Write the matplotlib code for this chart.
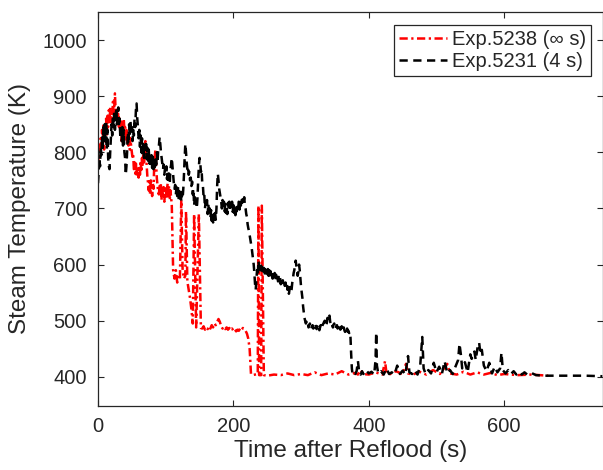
import matplotlib
matplotlib.use("Agg")
import matplotlib.pyplot as plt

plt.rcParams['font.family'] = ['Liberation Sans', 'DejaVu Sans']

# ---- data ----
# Exp.5238 : 1 s samples for t = 0..108, then irregular samples
red_early_T = [780, 795, 790, 815, 825, 810, 840, 820, 850, 805,
               835, 845, 860, 830, 865, 845, 875, 850, 880, 855,
               870, 850, 890, 865, 880, 905, 875, 860, 880, 850,
               870, 845, 860, 835, 855, 820, 850, 830, 860, 840,
               845, 820, 840, 815, 835, 812, 830, 805, 825, 810,
               800, 790, 795, 770, 785, 762, 780, 758, 775, 760,
               755, 772, 760, 785, 765, 790, 775, 800, 782, 810,
               820, 795, 775, 755, 745, 732, 748, 725, 750, 735,
               722, 745, 735, 775, 795, 805, 775, 752, 740, 728,
               725, 742, 730, 745, 715, 735, 720, 738, 712, 730,
               740, 718, 735, 745, 722, 740, 715, 732, 720]
red_late_t = [109, 111, 113, 115, 117, 119, 121, 123, 125, 127, 129, 130, 132, 134, 136, 138, 140,
              142, 145, 149, 152, 154, 156, 158, 160, 162, 164, 166, 168, 170, 172, 174, 176, 178, 180, 182,
              184, 186, 188, 190, 192, 194, 196, 198, 200, 202, 204, 206, 208, 210, 212, 214, 216, 218, 220,
              222, 224, 226, 228, 232, 236, 237, 238, 241, 242, 245, 250, 260, 270, 280, 290, 300, 310, 320,
              330, 340, 350, 360, 370, 380, 384, 388, 392, 400, 410, 420, 424, 426, 430, 440, 450, 455, 458,
              465, 475, 485, 495, 505, 516, 520, 530, 540, 550, 560, 570, 580, 590, 600, 620, 640, 665]
red_late_T = [705, 590, 575, 590, 568, 580, 575, 715, 590, 575, 580, 695, 570, 555,
              540, 520, 495, 690, 488, 690, 487, 486, 490, 484, 488, 485, 490, 486, 492, 488, 495, 492, 498, 503,
              498, 490, 486, 489, 485, 488, 484, 487, 483, 486, 482, 485, 481, 484, 482, 486, 483, 487, 485, 482,
              477, 468, 450, 405, 403, 404, 405, 705, 403, 403, 705, 403, 402, 404, 403, 406, 403, 405, 403, 408,
              403, 406, 404, 410, 404, 407, 404, 412, 405, 404, 408, 404, 428, 408, 404, 410, 405, 423, 406,
              404, 409, 404, 412, 405, 423, 406, 404, 409, 404, 408, 404, 407, 403, 405, 403, 404, 402]

# Exp.5231 : 1 s samples for t = 0..373, then irregular samples
black_early_T = [745, 765, 790, 775, 810, 795, 830, 805, 845, 815,
                 850, 820, 855, 805, 840, 790, 775, 770, 800, 825,
                 850, 830, 865, 845, 875, 840, 860, 880, 850, 870,
                 880, 845, 860, 825, 850, 820, 845, 812, 840, 800,
                 790, 760, 775, 800, 835, 815, 850, 830, 855, 835,
                 845, 820, 840, 830, 860, 845, 875, 887, 860, 845,
                 825, 840, 810, 830, 800, 825, 795, 815, 790, 810,
                 800, 815, 788, 808, 785, 805, 780, 798, 775, 795,
                 772, 792, 770, 788, 768, 790, 778, 800, 782, 805,
                 812, 827, 815, 800, 790, 780, 770, 778, 760, 772,
                 765, 775, 752, 768, 748, 762, 745, 770, 778, 790,
                 775, 760, 745, 735, 742, 725, 738, 722, 740, 715,
                 730, 718, 735, 712, 728, 718, 735, 760, 790, 815,
                 800, 782, 770, 775, 760, 765, 750, 755, 740, 748,
                 725, 735, 705, 720, 710, 715, 700, 720, 750, 775,
                 790, 782, 765, 770, 745, 740, 720, 725, 700, 712,
                 705, 715, 690, 708, 688, 700, 683, 697, 678, 692,
                 675, 690, 680, 692, 680, 700, 740, 762, 750, 735,
                 728, 720, 712, 700, 715, 698, 712, 695, 708, 692,
                 705, 690, 710, 700, 712, 695, 708, 698, 712, 694,
                 706, 692, 705, 688, 702, 695, 708, 700, 712, 698,
                 715, 705, 720, 710, 718, 712, 720, 705, 700, 690,
                 685, 672, 665, 660, 652, 645, 638, 630, 620, 610,
                 600, 585, 565, 555, 575, 590, 580, 607, 595, 600,
                 590, 598, 585, 595, 582, 594, 580, 592, 585, 590,
                 583, 592, 580, 590, 578, 588, 580, 586, 575, 585,
                 578, 585, 572, 582, 575, 580, 570, 578, 572, 576,
                 565, 575, 568, 572, 565, 570, 562, 568, 560, 565,
                 555, 560, 548, 556, 560, 552, 556, 568, 575, 585,
                 590, 600, 607, 598, 592, 580, 588, 600, 590, 575,
                 560, 550, 540, 525, 515, 505, 500, 495, 498, 492,
                 495, 488, 492, 495, 490, 485, 490, 492, 486, 488,
                 493, 495, 488, 485, 490, 488, 492, 483, 488, 492,
                 486, 488, 493, 495, 498, 500, 495, 490, 496, 505,
                 500, 505, 509, 498, 495, 498, 492, 488, 493, 495,
                 487, 485, 490, 492, 486, 488, 484, 490, 484, 486,
                 490, 484, 482, 488, 483, 480, 486, 482, 486, 480,
                 482, 478, 480, 470]
black_late_t = [374, 375, 376, 378, 380, 382, 384, 386, 388, 390, 392, 396, 400, 404, 408, 410, 411,
                412, 414, 418, 422, 426, 430, 434, 438, 442, 446, 450, 454, 458, 460, 464, 468, 472, 476, 479,
                481, 484, 488, 492, 496, 500, 504, 508, 512, 516, 520, 524, 528, 532, 534, 536, 538, 542, 546,
                550, 552, 556, 558, 561, 563, 565, 567, 570, 574, 578, 582, 586, 590, 594, 596, 598, 602, 606,
                610, 614, 618, 622, 626, 630, 634, 640, 647, 660, 680, 700, 720, 745]
black_late_T = [440, 415, 405, 408, 405, 410, 428, 406, 404, 410, 405, 412, 406, 409, 404, 430, 479,
                420, 406, 410, 404, 415, 405, 408, 404, 420, 405, 411, 404, 437, 408, 405, 412, 404, 420, 471,
                415, 405, 412, 406, 425, 408, 418, 405, 428, 406, 412, 405, 418, 430, 459, 440, 415, 426, 408,
                440, 432, 445, 430, 455, 461, 440, 448, 420, 410, 425, 406, 418, 408, 415, 443, 412, 406, 412,
                405, 410, 404, 409, 404, 408, 404, 407, 403, 402, 402, 402, 402, 401]

red_t = list(range(len(red_early_T))) + red_late_t
red_T = red_early_T + red_late_T
black_t = list(range(len(black_early_T))) + black_late_t
black_T = black_early_T + black_late_T

labels = ['Exp.5238 (\u221e s)', 'Exp.5231 (4 s)']
x_ticks = [0, 200, 400, 600]
y_ticks = [400, 500, 600, 700, 800, 900, 1000]

# ---- figure ----
fig = plt.figure(figsize=(6.03, 4.70), dpi=100)
ax = fig.add_axes([98 / 603, 1 - 406 / 470, 505 / 603, 394 / 470])

axc = (0.15, 0.15, 0.15)
ax.plot(red_t, red_T, color='red', linestyle=(0, (3.3, 1.4, 0.9, 1.4)), linewidth=1.8, label=labels[0])
ax.plot(black_t, black_T, color='black', linestyle=(0, (3.3, 2.2)), linewidth=1.8, label=labels[1])

ax.set_xlim(0, 746)
ax.set_ylim(348, 1050)
ax.set_xticks(x_ticks)
ax.set_yticks(y_ticks)

for s in ax.spines.values():
    s.set_color(axc)
    s.set_linewidth(0.9)
ax.tick_params(direction='in', length=4, width=0.8, color=axc, labelcolor=axc,
               labelsize=14.5, pad=8, top=True, right=True)

ax.set_xlabel('Time after Reflood (s)', fontsize=17.5, color=axc, labelpad=3)
ax.set_ylabel('Steam Temperature (K)', fontsize=17.5, color=axc, labelpad=8)

leg = ax.legend(loc='upper right', bbox_to_anchor=(0.977, 0.967), borderaxespad=0,
                fontsize=14.5, fancybox=False, framealpha=1, edgecolor=axc,
                handlelength=2.4, handletextpad=0.25, labelspacing=0.15, borderpad=0.25)
leg.get_frame().set_linewidth(0.9)
for t in leg.get_texts():
    t.set_color(axc)

fig.savefig('out.png', dpi=100)
